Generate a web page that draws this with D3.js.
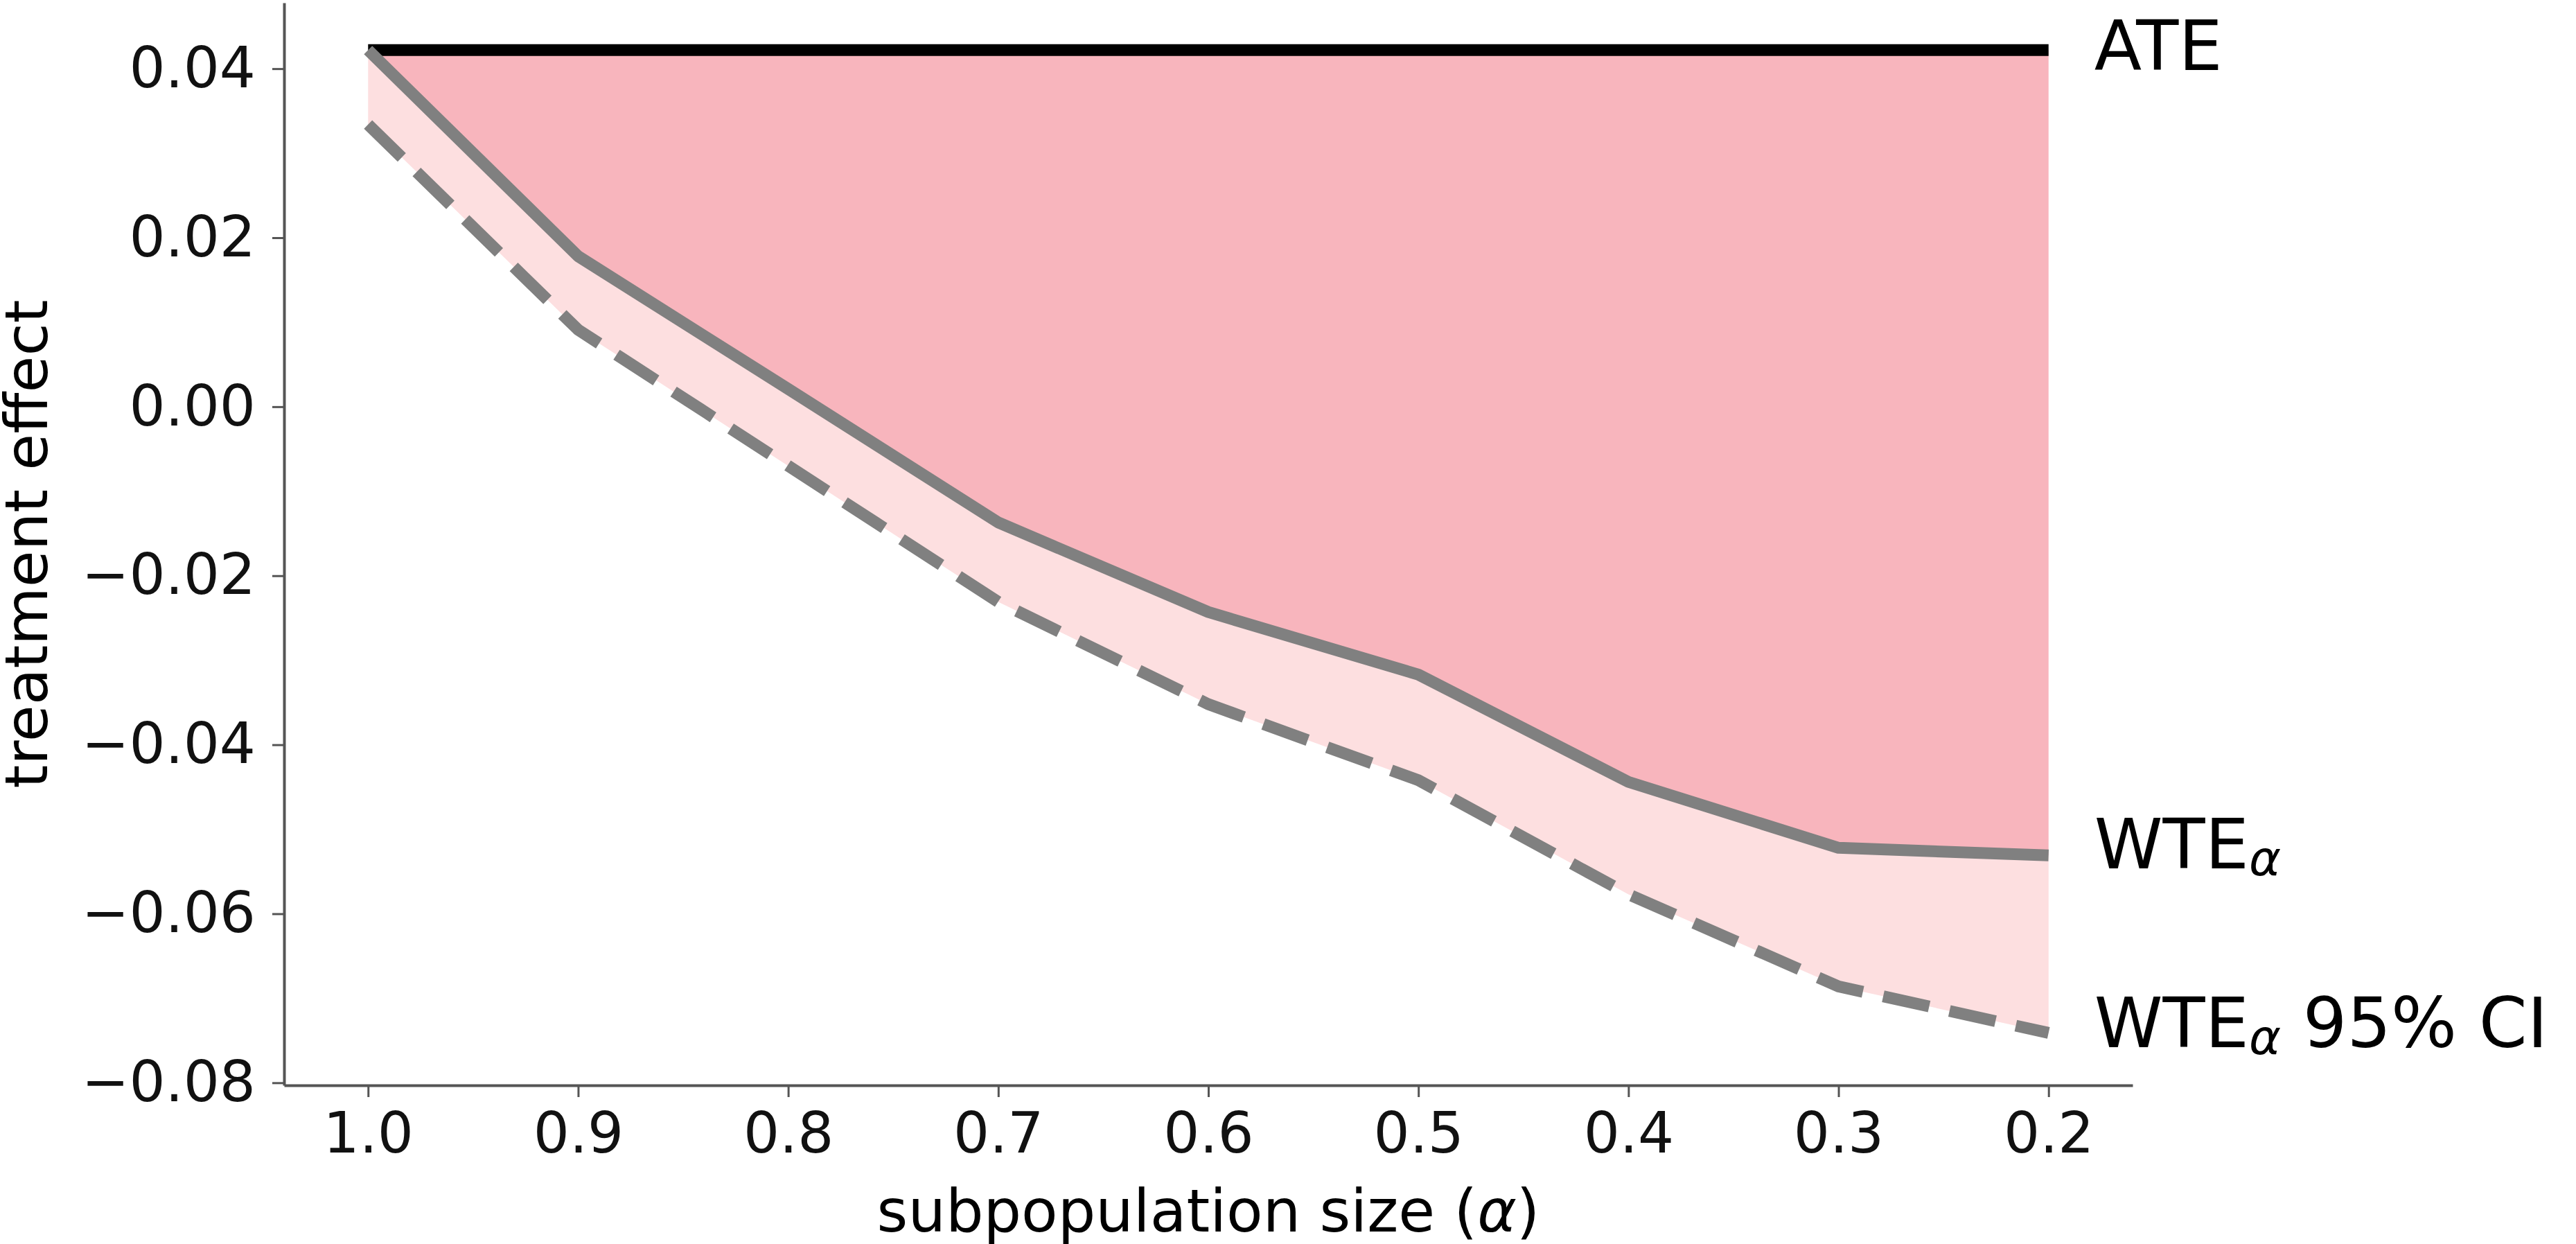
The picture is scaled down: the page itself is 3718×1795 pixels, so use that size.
<!DOCTYPE html>
<html>
<head>
<meta charset="utf-8">
<script src="https://cdnjs.cloudflare.com/ajax/libs/d3/7.8.5/d3.min.js"></script>
<style>
  body { margin: 0; background: #fff; }
  svg text { font-family: "DejaVu Sans", sans-serif; fill: #000; }
</style>
</head>
<body>
<svg id="chart" width="3718" height="1795"></svg>
<script>
// subpopulation size on the x axis (runs from 1.0 down to 0.2)
var alphas = [1.0, 0.9, 0.8, 0.7, 0.6, 0.5, 0.4, 0.3, 0.2];
// weighted treatment effect
var wte = [0.0422, 0.0178, 0.0021, -0.0137, -0.0243, -0.0317, -0.0444, -0.0522, -0.0531];
// lower end of 95% CI
var wteLow = [0.0334, 0.0091, -0.0070, -0.0231, -0.0352, -0.0442, -0.0577, -0.0686, -0.0741];
var ate = 0.0422;

var xTicks = [1.0, 0.9, 0.8, 0.7, 0.6, 0.5, 0.4, 0.3, 0.2];
var yTicks = [0.04, 0.02, 0.00, -0.02, -0.04, -0.06, -0.08];

var rows = alphas.map(function(a, i) {
    return { a: a, wte: wte[i], low: wteLow[i] };
});

// plot box (window.top is taken, so prefix these)
var plotL = 410, plotR = 3078, plotT = 4, plotB = 1566;

var x = d3.scaleLinear().domain([1.04, 0.16]).range([plotL, plotR]);
var y = d3.scaleLinear().domain([-0.0803, 0.0478]).range([plotB, plotT]);

var svg = d3.select("#chart");

// fills
var upperArea = d3.area()
    .x(d => x(d.a))
    .y0(d => y(d.wte))
    .y1(() => y(ate));

var lowerArea = d3.area()
    .x(d => x(d.a))
    .y0(d => y(d.low))
    .y1(d => y(d.wte));

svg.append("path")
    .datum(rows)
    .attr("d", lowerArea)
    .style("fill", "#fddfe0");

svg.append("path")
    .datum(rows)
    .attr("d", upperArea)
    .style("fill", "#f8b5bd");

// ATE line
svg.append("line")
    .attr("x1", x(alphas[0]))
    .attr("x2", x(alphas[alphas.length - 1]))
    .attr("y1", y(ate))
    .attr("y2", y(ate))
    .style("stroke", "#000")
    .style("stroke-width", "17px");

var wteLine = d3.line().x(d => x(d.a)).y(d => y(d.wte));
var lowLine = d3.line().x(d => x(d.a)).y(d => y(d.low));

svg.append("path")
    .datum(rows)
    .attr("d", lowLine)
    .style("fill", "none")
    .style("stroke", "#808080")
    .style("stroke-width", "17px")
    .style("stroke-dasharray", "68,30");

svg.append("path")
    .datum(rows)
    .attr("d", wteLine)
    .style("fill", "none")
    .style("stroke", "#808080")
    .style("stroke-width", "17px")
    .style("stroke-linejoin", "round");

// axes
var fmt = function(d) { return d3.format(".2f")(d).replace("-", "\u2212"); };

var yAxis = svg.append("g")
    .attr("transform", "translate(" + plotL + ",0)")
    .call(d3.axisLeft(y).tickValues(yTicks).tickFormat(fmt).tickSize(17).tickSizeOuter(0).tickPadding(24));

var xAxis = svg.append("g")
    .attr("transform", "translate(0," + plotB + ")")
    .call(d3.axisBottom(x).tickValues(xTicks).tickFormat(d3.format(".1f")).tickSize(17).tickSizeOuter(0).tickPadding(22));

[yAxis, xAxis].forEach(function(g) {
    g.select(".domain").style("stroke", "#555").style("stroke-width", "4px");
    g.selectAll(".tick line").style("stroke", "#555").style("stroke-width", "3px");
    g.selectAll(".tick text")
        .style("font-family", "DejaVu Sans")
        .style("font-size", "82px")
        .style("fill", "#111");
});

// axis titles
svg.append("text")
    .attr("transform", "translate(68," + ((plotT + plotB) / 2) + ") rotate(-90)")
    .attr("text-anchor", "middle")
    .style("font-size", "86px")
    .text("treatment effect");

var xl = svg.append("text")
    .attr("x", (plotL + plotR) / 2)
    .attr("y", 1777)
    .attr("text-anchor", "middle")
    .style("font-size", "86px");
xl.append("tspan").text("subpopulation size (");
xl.append("tspan").style("font-style", "italic").text("\u03b1");
xl.append("tspan").text(")");

// right-hand labels
var labX = x(0.2) + 66;

svg.append("text")
    .attr("x", labX)
    .attr("y", y(ate) + 29)
    .style("font-size", "100px")
    .text("ATE");

var l2 = svg.append("text")
    .attr("x", labX)
    .attr("y", y(wte[wte.length - 1]) + 19)
    .style("font-size", "100px");
l2.append("tspan").text("WTE");
l2.append("tspan").attr("dy", 10).style("font-size", "70px").style("font-style", "italic").text("\u03b1");

var l3 = svg.append("text")
    .attr("x", labX)
    .attr("y", y(wteLow[wteLow.length - 1]) + 21)
    .style("font-size", "100px");
l3.append("tspan").text("WTE");
l3.append("tspan").attr("dy", 10).style("font-size", "70px").style("font-style", "italic").text("\u03b1");
l3.append("tspan").attr("dy", -10).text(" 95% CI");
</script>
</body>
</html>
